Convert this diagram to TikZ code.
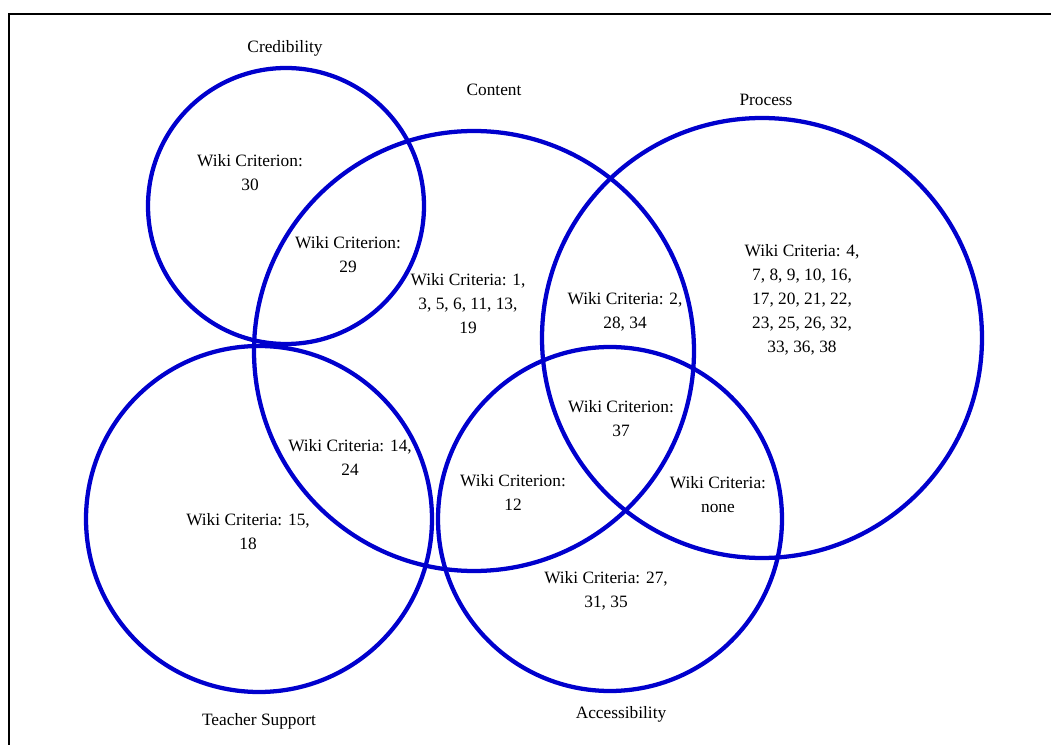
\documentclass[tikz,border=0pt]{standalone}
\usepackage{fontspec}
\setmainfont{Liberation Serif}
\definecolor{vennblue}{RGB}{0,0,205}
\begin{document}
\begin{tikzpicture}[x=0.75pt,y=-0.75pt,
  ring/.style={draw=vennblue,line width=3.2pt},
  lbl/.style={font=\fontsize{13}{18}\selectfont,align=center,inner sep=0pt,text=black},
  frame/.style={draw=black,line width=1.5pt}]
\useasboundingbox (0,0) rectangle (1051,745);
\draw[frame] (9,745) -- (9,14) -- (1051,14);
% circles
\draw[ring] (286,206) circle[radius=138];
\draw[ring] (474,351) circle[radius=220];
\draw[ring] (762,338) circle[radius=220];
\draw[ring] (259,519) circle[radius=173];
\draw[ring] (610,519) circle[radius=172];
% set names
\node[lbl] (cred) at (285,48) {Credibility};
\node[lbl] (cont) at (494,90) {Content};
\node[lbl] (proc) at (766,100) {Process};
\node[lbl] (teach) at (259,721) {Teacher Support};
\node[lbl] (acc) at (621,714) {Accessibility};
% region labels
\node[lbl] (r30) at (250,173) {Wiki Criterion:\\30};
\node[lbl] (r29) at (348,255) {Wiki Criterion:\\29};
\node[lbl] (r1) at (468,304) {Wiki Criteria: 1,\\3, 5, 6, 11, 13,\\19};
\node[lbl] (r2) at (625,312) {Wiki Criteria: 2,\\28, 34};
\node[lbl] (r4) at (802,300) {Wiki Criteria: 4,\\7, 8, 9, 10, 16,\\17, 20, 21, 22,\\23, 25, 26, 32,\\33, 36, 38};
\node[lbl] (r37) at (621,419) {Wiki Criterion:\\37};
\node[lbl] (r14) at (350,457) {Wiki Criteria: 14,\\24};
\node[lbl] (r15) at (248,532) {Wiki Criteria: 15,\\18};
\node[lbl] (r12) at (513,492) {Wiki Criterion:\\12};
\node[lbl] (rnone) at (718,495) {Wiki Criteria:\\none};
\node[lbl] (r27) at (606,591) {Wiki Criteria: 27,\\31, 35};
\end{tikzpicture}
\end{document}
